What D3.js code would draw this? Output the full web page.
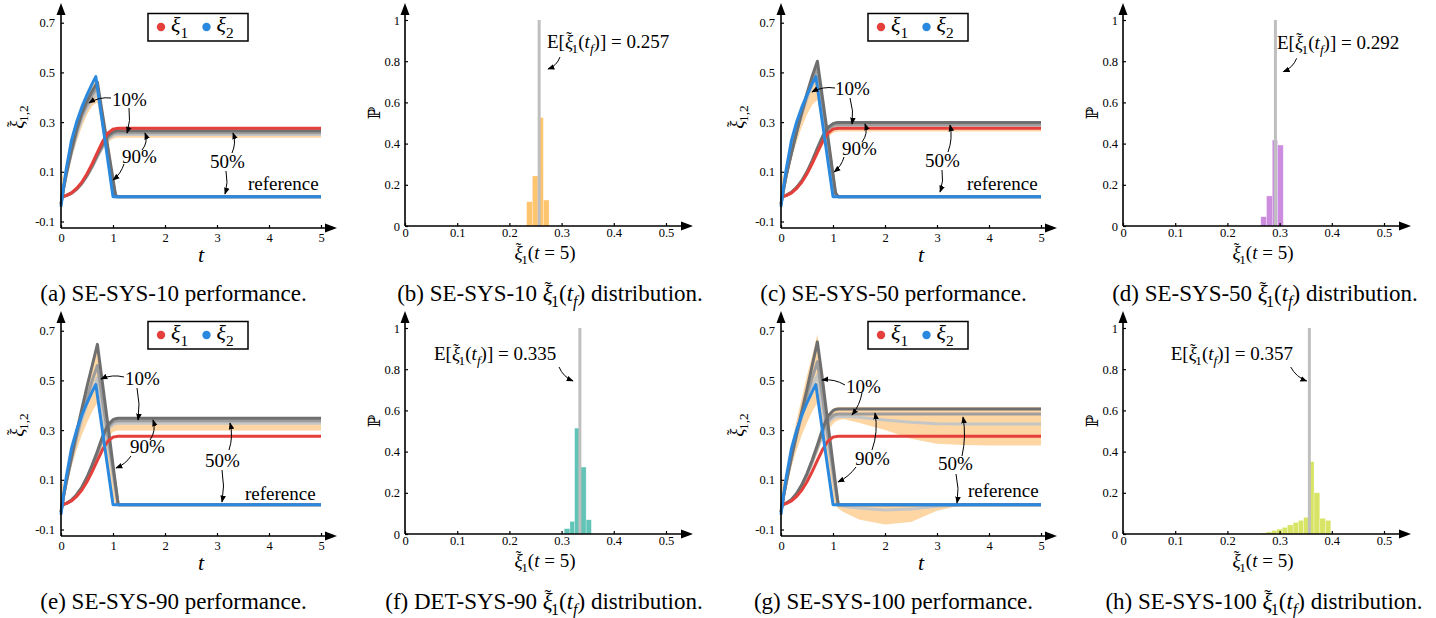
<!DOCTYPE html>
<html>
<head>
<meta charset="utf-8">
<script src="https://cdn.jsdelivr.net/npm/d3@7"></script>
<style>
  body { margin: 0; background: #fff; }
  svg { display: block; }
</style>
</head>
<body>
<svg id="fig" width="1436" height="618" font-family="Liberation Serif, Times New Roman, serif"></svg>
<script>
// time grid shared by the ensemble curves
const tGrid = [0, 0.05, 0.1, 0.2, 0.3, 0.4, 0.5, 0.6, 0.7, 0.8, 0.9, 1.0, 1.05, 1.1, 1.2, 1.5, 2, 2.5, 3, 3.5, 4, 5];

// reference trajectories [t, value]
const refX1 = [[0, 0], [0.1, 0.004], [0.2, 0.015], [0.3, 0.033], [0.4, 0.058], [0.5, 0.092], [0.6, 0.133], [0.7, 0.178], [0.8, 0.222], [0.9, 0.255], [1.0, 0.272], [1.1, 0.275], [5, 0.275]];
const refX2 = [[0, -0.04], [0.05, 0.04], [0.1, 0.11], [0.2, 0.225], [0.3, 0.3], [0.4, 0.36], [0.5, 0.41], [0.6, 0.455], [0.67, 0.483], [1.0, 0], [5, 0]];

// (a) SE-SYS-10
const aX1Lo = [0, 0, 0.003, 0.011, 0.026, 0.047, 0.075, 0.11, 0.15, 0.188, 0.218, 0.233, 0.236, 0.237, 0.237, 0.237, 0.237, 0.237, 0.237, 0.237, 0.237, 0.237];
const aX1Hi = [0, 0.002, 0.006, 0.017, 0.035, 0.06, 0.093, 0.133, 0.178, 0.222, 0.255, 0.27, 0.272, 0.273, 0.273, 0.273, 0.273, 0.273, 0.273, 0.273, 0.273, 0.273];
const aX1G1 = [0, 0.001, 0.004, 0.014, 0.031, 0.055, 0.087, 0.126, 0.17, 0.212, 0.245, 0.261, 0.264, 0.265, 0.265, 0.265, 0.265, 0.265, 0.265, 0.265, 0.265, 0.265];
const aX1G2 = [0, 0.001, 0.004, 0.013, 0.03, 0.053, 0.084, 0.122, 0.165, 0.205, 0.237, 0.253, 0.256, 0.257, 0.257, 0.257, 0.257, 0.257, 0.257, 0.257, 0.257, 0.257];
const aX1G3 = [0, 0.001, 0.004, 0.013, 0.029, 0.052, 0.082, 0.118, 0.16, 0.2, 0.231, 0.246, 0.249, 0.25, 0.25, 0.25, 0.25, 0.25, 0.25, 0.25, 0.25, 0.25];
const aX2Lo = [-0.06, 0, 0.06, 0.15, 0.22, 0.28, 0.33, 0.365, 0.38, 0.26, 0.13, 0, 0, 0, 0, 0, 0, 0, 0, 0, 0, 0];
const aX2Hi = [0.11, 0.07, 0.12, 0.23, 0.31, 0.37, 0.42, 0.46, 0.47, 0.34, 0.21, 0.078, 0.013, 0, 0, 0, 0, 0, 0, 0, 0, 0];
const aX2G1 = [-0.03, 0.035, 0.09, 0.185, 0.27, 0.335, 0.385, 0.425, 0.46, 0.33, 0.2, 0.07, 0.005, 0, 0, 0, 0, 0, 0, 0, 0, 0];
const aX2G2 = [-0.03, 0.035, 0.09, 0.18, 0.26, 0.325, 0.37, 0.41, 0.44, 0.315, 0.19, 0.06, 0, 0, 0, 0, 0, 0, 0, 0, 0, 0];
const aX2G3 = [-0.03, 0.03, 0.085, 0.175, 0.25, 0.31, 0.355, 0.39, 0.42, 0.3, 0.175, 0.05, 0, 0, 0, 0, 0, 0, 0, 0, 0, 0];

// (c) SE-SYS-50
const cX1Lo = [0, 0, 0.003, 0.012, 0.028, 0.05, 0.082, 0.12, 0.163, 0.205, 0.238, 0.256, 0.26, 0.262, 0.262, 0.262, 0.262, 0.262, 0.262, 0.262, 0.262, 0.262];
const cX1Hi = [0, 0.002, 0.006, 0.019, 0.04, 0.068, 0.105, 0.15, 0.2, 0.248, 0.283, 0.298, 0.301, 0.302, 0.302, 0.302, 0.302, 0.302, 0.302, 0.302, 0.302, 0.302];
const cX1G1 = [0, 0.001, 0.005, 0.017, 0.037, 0.064, 0.1, 0.145, 0.195, 0.243, 0.278, 0.294, 0.297, 0.298, 0.298, 0.298, 0.298, 0.298, 0.298, 0.298, 0.298, 0.298];
const cX1G2 = [0, 0.001, 0.005, 0.016, 0.035, 0.062, 0.097, 0.14, 0.189, 0.236, 0.27, 0.286, 0.289, 0.29, 0.29, 0.29, 0.29, 0.29, 0.29, 0.29, 0.29, 0.29];
const cX1G3 = [0, 0.001, 0.005, 0.016, 0.034, 0.061, 0.095, 0.137, 0.185, 0.231, 0.265, 0.281, 0.284, 0.285, 0.285, 0.285, 0.285, 0.285, 0.285, 0.285, 0.285, 0.285];
const cX2Lo = [-0.06, 0, 0.06, 0.15, 0.22, 0.28, 0.33, 0.37, 0.39, 0.27, 0.14, 0.01, 0, 0, 0, 0, 0, 0, 0, 0, 0, 0];
const cX2Hi = [0.11, 0.07, 0.12, 0.23, 0.31, 0.37, 0.42, 0.485, 0.555, 0.405, 0.255, 0.1, 0.025, 0, 0, 0, 0, 0, 0, 0, 0, 0];
const cX2G1 = [-0.03, 0.03, 0.085, 0.175, 0.26, 0.34, 0.415, 0.485, 0.545, 0.394, 0.243, 0.09, 0.015, 0, 0, 0, 0, 0, 0, 0, 0, 0];
const cX2G2 = [-0.03, 0.03, 0.085, 0.175, 0.26, 0.335, 0.405, 0.465, 0.52, 0.375, 0.23, 0.08, 0.01, 0, 0, 0, 0, 0, 0, 0, 0, 0];
const cX2G3 = [-0.03, 0.03, 0.085, 0.175, 0.26, 0.33, 0.395, 0.45, 0.5, 0.36, 0.215, 0.07, 0.005, 0, 0, 0, 0, 0, 0, 0, 0, 0];

// (e) SE-SYS-90
const eX1Lo = [0, 0, 0.003, 0.013, 0.03, 0.055, 0.09, 0.133, 0.18, 0.232, 0.272, 0.292, 0.296, 0.298, 0.298, 0.298, 0.298, 0.298, 0.298, 0.298, 0.298, 0.298];
const eX1Hi = [0, 0.002, 0.007, 0.02, 0.043, 0.074, 0.115, 0.166, 0.222, 0.282, 0.326, 0.347, 0.35, 0.352, 0.352, 0.352, 0.352, 0.352, 0.352, 0.352, 0.352, 0.352];
const eX1G1 = [0, 0.001, 0.005, 0.018, 0.04, 0.07, 0.11, 0.16, 0.215, 0.275, 0.32, 0.342, 0.346, 0.348, 0.348, 0.348, 0.348, 0.348, 0.348, 0.348, 0.348, 0.348];
const eX1G2 = [0, 0.001, 0.005, 0.018, 0.039, 0.068, 0.107, 0.155, 0.208, 0.266, 0.311, 0.332, 0.336, 0.338, 0.338, 0.338, 0.338, 0.338, 0.338, 0.338, 0.338, 0.338];
const eX1G3 = [0, 0.001, 0.005, 0.017, 0.038, 0.066, 0.104, 0.15, 0.202, 0.258, 0.302, 0.322, 0.326, 0.328, 0.328, 0.328, 0.328, 0.328, 0.328, 0.328, 0.328, 0.328];
const eX2Lo = [-0.06, 0, 0.06, 0.15, 0.22, 0.28, 0.33, 0.375, 0.41, 0.29, 0.16, 0.03, 0, 0, 0, 0, 0, 0, 0, 0, 0, 0];
const eX2Hi = [0.11, 0.07, 0.12, 0.23, 0.32, 0.4, 0.48, 0.57, 0.655, 0.495, 0.33, 0.165, 0.085, 0.005, 0, 0, 0, 0, 0, 0, 0, 0];
const eX2G1 = [-0.03, 0.035, 0.09, 0.19, 0.29, 0.385, 0.475, 0.56, 0.645, 0.485, 0.325, 0.16, 0.08, 0, 0, 0, 0, 0, 0, 0, 0, 0];
const eX2G2 = [-0.03, 0.035, 0.09, 0.185, 0.275, 0.36, 0.43, 0.5, 0.56, 0.42, 0.28, 0.14, 0.07, 0, 0, 0, 0, 0, 0, 0, 0, 0];
const eX2G3 = [-0.03, 0.035, 0.09, 0.18, 0.265, 0.34, 0.405, 0.46, 0.51, 0.38, 0.25, 0.12, 0.055, 0, 0, 0, 0, 0, 0, 0, 0, 0];

// (g) SE-SYS-100
const gX1Lo = [0, 0, 0.004, 0.015, 0.035, 0.065, 0.105, 0.155, 0.205, 0.26, 0.3, 0.325, 0.335, 0.34, 0.345, 0.33, 0.3, 0.265, 0.245, 0.24, 0.238, 0.238];
const gX1Hi = [0, 0.002, 0.008, 0.023, 0.048, 0.084, 0.13, 0.186, 0.248, 0.315, 0.365, 0.386, 0.391, 0.393, 0.393, 0.393, 0.393, 0.393, 0.393, 0.393, 0.393, 0.393];
const gX1G1 = [0, 0.001, 0.006, 0.02, 0.045, 0.08, 0.125, 0.18, 0.24, 0.305, 0.355, 0.378, 0.383, 0.385, 0.385, 0.385, 0.385, 0.385, 0.385, 0.385, 0.385, 0.385];
const gX1G2 = [0, 0.001, 0.006, 0.02, 0.044, 0.078, 0.122, 0.175, 0.232, 0.292, 0.338, 0.358, 0.363, 0.365, 0.365, 0.365, 0.365, 0.365, 0.365, 0.365, 0.365, 0.365];
const gX1G3 = [0, 0.001, 0.006, 0.019, 0.043, 0.076, 0.118, 0.17, 0.225, 0.283, 0.328, 0.348, 0.352, 0.355, 0.356, 0.352, 0.341, 0.332, 0.326, 0.325, 0.325, 0.325];
const gX2Lo = [-0.07, 0, 0.06, 0.15, 0.22, 0.28, 0.33, 0.375, 0.41, 0.29, 0.16, 0.02, -0.005, -0.015, -0.03, -0.06, -0.08, -0.07, -0.025, 0, 0, 0];
const gX2Hi = [0.13, 0.08, 0.13, 0.24, 0.34, 0.43, 0.52, 0.6, 0.685, 0.53, 0.355, 0.18, 0.095, 0.01, 0, 0, 0, 0, 0, 0, 0, 0];
const gX2G1 = [-0.03, 0.035, 0.09, 0.19, 0.285, 0.375, 0.465, 0.56, 0.655, 0.5, 0.33, 0.165, 0.08, 0, 0, 0, 0, 0, 0, 0, 0, 0];
const gX2G2 = [-0.03, 0.035, 0.09, 0.19, 0.28, 0.365, 0.44, 0.51, 0.575, 0.43, 0.285, 0.14, 0.07, 0, 0, 0, 0, 0, 0, 0, 0, 0];
const gX2G3 = [-0.03, 0.035, 0.09, 0.185, 0.275, 0.355, 0.42, 0.475, 0.52, 0.39, 0.255, 0.12, 0.05, -0.002, -0.006, -0.014, -0.022, -0.018, -0.006, 0, 0, 0];

// histograms of xi1(t = 5): bin edges and probabilities
const histBEdges = [0.233, 0.244, 0.255, 0.265, 0.276];
const histBProb = [0.118, 0.243, 0.526, 0.126];
const histDEdges = [0.264, 0.275, 0.286, 0.296, 0.307];
const histDProb = [0.045, 0.146, 0.417, 0.393];
const histFEdges = [0.305, 0.316, 0.325, 0.336, 0.347, 0.357];
const histFProb = [0.026, 0.061, 0.514, 0.325, 0.069];
const histHEdges = [0.266, 0.275, 0.285, 0.295, 0.305, 0.315, 0.326, 0.336, 0.346, 0.356, 0.366, 0.377, 0.388, 0.398];
const histHProb = [0.005, 0.01, 0.017, 0.024, 0.032, 0.044, 0.056, 0.066, 0.081, 0.351, 0.2, 0.076, 0.066];
const histMeans = [0.257, 0.292, 0.335, 0.357];

const perfXTicks = [0, 1, 2, 3, 4, 5];
const perfYTicks = [-0.1, 0.1, 0.3, 0.5, 0.7];
const histXTicks = [0, 0.1, 0.2, 0.3, 0.4, 0.5];
const histYTicks = [0, 0.2, 0.4, 0.6, 0.8, 1];

const C = {
  band: "#fdd6a4", g1: "#6f6f6f", g2: "#9d9d9d", g3: "#c6c6c6",
  red: "#e53f3b", blue: "#2b88df", mean: "#bfbfbf"
};

// xi with a tilde on top
const XI = [["\u03BE", "i"], ["\u02DC", "t"]];

const svg = d3.select("#fig");
svg.append("defs").append("marker")
  .attr("id", "ah").attr("viewBox", "0 0 10 10")
  .attr("refX", 9).attr("refY", 5)
  .attr("markerWidth", 7).attr("markerHeight", 7)
  .attr("markerUnits", "userSpaceOnUse").attr("orient", "auto")
  .append("path").attr("d", "M0,1 L10,5 L0,9 z").attr("fill", "#000");

// text with italic / subscript / tilde parts
function rich(sel, parts, size) {
  let shift = 0;
  parts.forEach(([s, st]) => {
    st = st || "";
    const sub = st.includes("s");
    const tilde = st.includes("t");
    const want = sub ? size * 0.28 : tilde ? -size * 0.24 : 0;
    const ts = sel.append("tspan").text(s).attr("dy", want - shift);
    shift = want;
    if (tilde) ts.attr("dx", -size * 0.36).attr("font-size", size * 0.85);
    if (st.includes("i")) ts.attr("font-style", "italic");
    if (sub) ts.attr("font-size", size * 0.7);
  });
  return sel;
}

function curved(g, a) {
  const [x1, y1, x2, y2, bend] = a;
  const dx = x2 - x1, dy = y2 - y1, L = Math.hypot(dx, dy);
  const cx = (x1 + x2) / 2 - dy / L * bend, cy = (y1 + y2) / 2 + dx / L * bend;
  g.append("path").attr("d", `M${x1},${y1}Q${cx},${cy} ${x2},${y2}`)
    .attr("fill", "none").attr("stroke", "#000").attr("stroke-width", 1)
    .attr("marker-end", "url(#ah)");
}

function axisArrows(g, x0, y0, x1, y1) {
  g.append("path").attr("d", `M${x0},${y0}H${x1 - 8}M${x0},${y0}V${y1 + 8}`)
    .attr("stroke", "#000").attr("stroke-width", 1.6).attr("fill", "none");
  g.append("path").attr("d", `M${x1},${y0}L${x1 - 12},${y0 - 4.5}L${x1 - 12},${y0 + 4.5}Z`).attr("fill", "#000");
  g.append("path").attr("d", `M${x0},${y1}L${x0 - 4.5},${y1 + 12}L${x0 + 4.5},${y1 + 12}Z`).attr("fill", "#000");
}

function styleAxis(ax) {
  ax.select(".domain").remove();
  ax.attr("font-family", null).attr("font-size", 12.5);
  ax.selectAll(".tick line").attr("stroke-width", 1.2);
}

function caption(g, cx, parts) {
  rich(g.append("text").attr("x", cx).attr("y", 301).attr("text-anchor", "middle")
    .attr("font-size", 23), parts, 23);
}

function drawPerf(ox, oy, s, notes, cap) {
  const g = svg.append("g").attr("transform", `translate(${ox},${oy})`);
  const x = d3.scaleLinear().domain([0, 5]).range([61, 321]);
  const y = d3.scaleLinear().domain([-0.1, 0.7]).range([221.5, 22.7]);
  const band = d3.area().x(d => x(d[0])).y0(d => y(d[1])).y1(d => y(d[2]));
  const line = d3.line().x(d => x(d[0])).y(d => y(d[1]));
  const zipBand = (lo, hi) => tGrid.map((t, i) => [t, lo[i], hi[i]]);
  const zip = v => tGrid.map((t, i) => [t, v[i]]);

  g.append("path").attr("d", band(zipBand(s.x1Lo, s.x1Hi))).attr("fill", C.band);
  g.append("path").attr("d", band(zipBand(s.x2Lo, s.x2Hi))).attr("fill", C.band);
  [["g3", s.x1G3, s.x2G3], ["g2", s.x1G2, s.x2G2], ["g1", s.x1G1, s.x2G1]].forEach(([c, a, b]) => {
    [a, b].forEach(v => g.append("path").attr("d", line(zip(v)))
      .attr("fill", "none").attr("stroke", C[c]).attr("stroke-width", 3).attr("stroke-linejoin", "round"));
  });
  g.append("path").attr("d", line(refX1)).attr("fill", "none").attr("stroke", C.red).attr("stroke-width", 3);
  g.append("path").attr("d", line(refX2)).attr("fill", "none").attr("stroke", C.blue).attr("stroke-width", 3)
    .attr("stroke-linejoin", "round");

  const xa = g.append("g").attr("transform", "translate(0,228)")
    .call(d3.axisBottom(x).tickValues(perfXTicks).tickFormat(String).tickSizeInner(-3).tickSizeOuter(0).tickPadding(5));
  styleAxis(xa);
  const ya = g.append("g").attr("transform", "translate(61,0)")
    .call(d3.axisLeft(y).tickValues(perfYTicks).tickFormat(String).tickSizeInner(-3).tickSizeOuter(0).tickPadding(6));
  styleAxis(ya);
  axisArrows(g, 61, 228, 337, 3);

  // legend
  const lg = g.append("g");
  lg.append("rect").attr("x", 148).attr("y", 13.5).attr("width", 100).attr("height", 27.5)
    .attr("fill", "#fff").attr("stroke", "#000").attr("stroke-width", 1.5);
  [[161, C.red, "1"], [206.5, C.blue, "2"]].forEach(([cx, col, k]) => {
    lg.append("circle").attr("cx", cx).attr("cy", 27).attr("r", 4.2).attr("fill", col);
    rich(lg.append("text").attr("x", cx + 10).attr("y", 32).attr("font-size", 22),
      [["\u03BE", "i"], [k, "s"]], 22);
  });

  // annotations
  notes.labels.forEach(([t, lx, ly]) => g.append("text").attr("x", lx).attr("y", ly)
    .attr("font-size", 19).text(t));
  notes.arrows.forEach(a => curved(g, a));

  rich(g.append("text").attr("x", 198).attr("y", 262).attr("font-size", 22), [["t", "i"]], 22);
  rich(g.append("text").attr("transform", "translate(23,117) rotate(-90)").attr("text-anchor", "middle")
    .attr("font-size", 19), [...XI, ["1,2", "s"]], 19);
  caption(g, 173.5, cap);
}

function drawHist(ox, oy, edges, prob, mean, col, note, cap, capX) {
  const g = svg.append("g").attr("transform", `translate(${ox},${oy})`);
  const x = d3.scaleLinear().domain([0, 0.5]).range([45, 306]);
  const y = d3.scaleLinear().domain([0, 1]).range([226, 20]);
  const bins = prob.map((p, i) => ({ x0: edges[i], x1: edges[i + 1], p }));

  g.selectAll(".bar").data(bins).enter().append("rect").attr("class", "bar")
    .attr("x", d => x(d.x0)).attr("width", d => x(d.x1) - x(d.x0))
    .attr("y", d => y(d.p)).attr("height", d => y(0) - y(d.p))
    .attr("fill", col).attr("stroke", "#fff").attr("stroke-opacity", 0.45).attr("stroke-width", 0.6);
  g.append("line").attr("x1", x(mean)).attr("x2", x(mean)).attr("y1", y(0)).attr("y2", y(1))
    .attr("stroke", C.mean).attr("stroke-width", 3);

  const xa = g.append("g").attr("transform", "translate(0,226)")
    .call(d3.axisBottom(x).tickValues(histXTicks).tickFormat(String).tickSizeInner(-3).tickSizeOuter(0).tickPadding(2.5));
  styleAxis(xa);
  const ya = g.append("g").attr("transform", "translate(45,0)")
    .call(d3.axisLeft(y).tickValues(histYTicks).tickFormat(String).tickSizeInner(-3).tickSizeOuter(0).tickPadding(5));
  styleAxis(ya);
  axisArrows(g, 45, 226, 333, 3);

  rich(g.append("text").attr("x", note.x).attr("y", note.y).attr("font-size", 19),
    [["E[", ""], ...XI, ["1", "s"], ["(", ""], ["t", "i"], ["f", "si"], [")] = " + mean.toFixed(3), ""]], 19);
  curved(g, note.arrow);

  rich(g.append("text").attr("x", 185).attr("y", 259).attr("text-anchor", "middle").attr("font-size", 19),
    [...XI, ["1", "s"], ["(", ""], ["t", "i"], [" = 5)", ""]], 19);
  g.append("text").attr("transform", "translate(20,113) rotate(-90)").attr("text-anchor", "middle")
    .attr("font-size", 17).attr("font-family", "DejaVu Serif").text("\u2119");
  caption(g, capX, cap);
}

const distCap = (tag, name) => [[`(${tag}) ${name} `, ""], ...XI, ["1", "s"], ["(", ""], ["t", "i"], ["f", "si"], [") distribution.", ""]];

drawPerf(0, 0,
  { x1Lo: aX1Lo, x1Hi: aX1Hi, x1G1: aX1G1, x1G2: aX1G2, x1G3: aX1G3, x2Lo: aX2Lo, x2Hi: aX2Hi, x2G1: aX2G1, x2G2: aX2G2, x2G3: aX2G3 },
  { labels: [["10%", 112, 106], ["90%", 122, 163], ["50%", 210, 168], ["reference", 248, 190]],
    arrows: [[111, 98, 89, 103, 4], [129, 108, 127, 133, -3], [142, 150, 145, 133, 5], [124, 164, 113, 180, -3], [232, 153, 233, 133, 4], [226, 171, 225, 194, -3]] },
  [["(a) SE-SYS-10 performance.", ""]]);
drawHist(360, 0, histBEdges, histBProb, histMeans[0], "#ffc46e",
  { x: 187, y: 48, arrow: [200, 57, 188, 69, -4] }, distCap("b", "SE-SYS-10"), 190);
drawPerf(720, 0,
  { x1Lo: cX1Lo, x1Hi: cX1Hi, x1G1: cX1G1, x1G2: cX1G2, x1G3: cX1G3, x2Lo: cX2Lo, x2Hi: cX2Hi, x2G1: cX2G1, x2G2: cX2G2, x2G3: cX2G3 },
  { labels: [["10%", 115, 95], ["90%", 122, 155], ["50%", 205, 167], ["reference", 247, 190]],
    arrows: [[115, 88, 92, 92, 4], [130, 98, 132, 124, -3], [142, 142, 145, 124, 5], [124, 157, 114, 172, -3], [228, 152, 230, 125, 4], [222, 170, 220, 192, -3]] },
  [["(c) SE-SYS-50 performance.", ""]]);
drawHist(1078, 0, histDEdges, histDProb, histMeans[1], "#cd8ddf",
  { x: 199, y: 49, arrow: [218.7, 58.3, 205.3, 71.7, -4] }, distCap("d", "SE-SYS-50"), 187);
drawPerf(0, 308,
  { x1Lo: eX1Lo, x1Hi: eX1Hi, x1G1: eX1G1, x1G2: eX1G2, x1G3: eX1G3, x2Lo: eX2Lo, x2Hi: eX2Hi, x2G1: eX2G1, x2G2: eX2G2, x2G3: eX2G3 },
  { labels: [["10%", 125, 77], ["90%", 130, 145], ["50%", 205, 159], ["reference", 245, 192]],
    arrows: [[124, 69, 101, 71, 4], [137, 80, 138, 112, -3], [150, 132, 153, 112, 5], [131, 148, 116, 160, -3], [229, 142, 230, 115, 4], [222, 162, 222, 194, -3]] },
  [["(e) SE-SYS-90 performance.", ""]]);
drawHist(360, 308, histFEdges, histFProb, histMeans[2], "#62c4b6",
  { x: 74, y: 52, arrow: [199, 59, 213, 73, 4] }, distCap("f", "DET-SYS-90"), 184);
drawPerf(720, 308,
  { x1Lo: gX1Lo, x1Hi: gX1Hi, x1G1: gX1G1, x1G2: gX1G2, x1G3: gX1G3, x2Lo: gX2Lo, x2Hi: gX2Hi, x2G1: gX2G1, x2G2: gX2G2, x2G3: gX2G3 },
  { labels: [["10%", 126, 85], ["90%", 135, 157], ["50%", 218, 162], ["reference", 248, 189]],
    arrows: [[125, 77, 102, 72, 4], [142, 85, 132, 107, -3], [152, 142, 155, 105, 5], [136, 159, 118, 174, -3], [242, 148, 243, 109, 4], [236, 166, 237, 195, -3]] },
  [["(g) SE-SYS-100 performance.", ""]]);
drawHist(1078, 308, histHEdges, histHProb, histMeans[3], "#d8e465",
  { x: 92.7, y: 52, arrow: [212.7, 59, 228.7, 73, 4] }, distCap("h", "SE-SYS-100"), 186);
</script>
</body>
</html>
